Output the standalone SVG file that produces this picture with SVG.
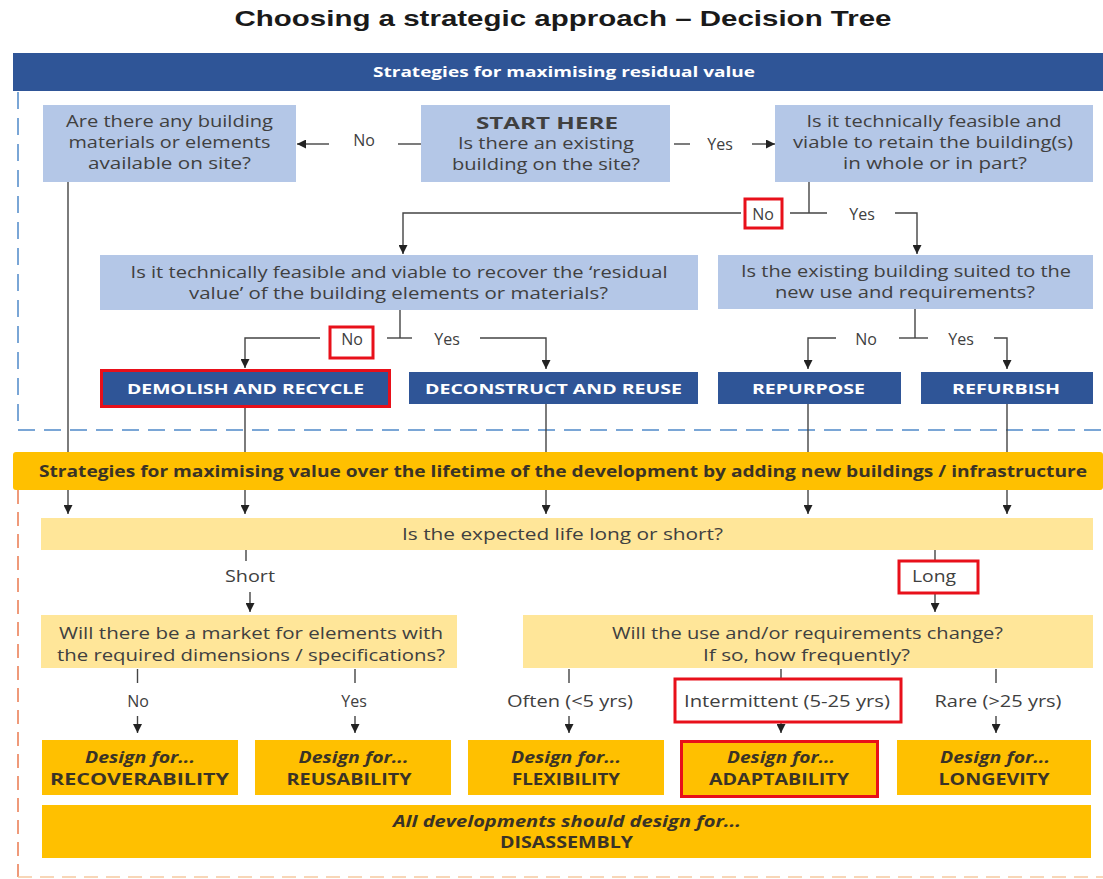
<svg xmlns="http://www.w3.org/2000/svg" width="1103" height="879" viewBox="0 0 1103 879">
<defs>
<marker id="ah" markerUnits="userSpaceOnUse" markerWidth="10" markerHeight="9" refX="9" refY="4.5" orient="auto">
<path d="M0,0 L9,4.5 L0,9 z" fill="#222"/>
</marker>
<style>
.q{fill:#b4c7e7}
.opt{fill:#2f5597}
.ly{fill:#ffe699}
.gy{fill:#ffc000}
.red{fill:none;stroke:#e8101a;stroke-width:3}
.t{font-family:"Open Sans","DejaVu Sans",sans-serif;font-size:16px;fill:#404040;text-anchor:middle}
.b{font-weight:bold}
.i{font-style:italic}
.w{fill:#ffffff;font-size:15px;font-weight:bold}
.d{fill:#3a3326;font-weight:bold}
.c{fill:none;stroke:#444;stroke-width:1.4}
.ca{fill:none;stroke:#444;stroke-width:1.4;marker-end:url(#ah)}
</style>
</defs>
<rect width="1103" height="879" fill="#ffffff"/>

<text x="563" y="26" font-family="Liberation Sans, Arial, sans-serif" font-size="22" font-weight="bold" fill="#1a1a1a" text-anchor="middle" textLength="657" lengthAdjust="spacingAndGlyphs">Choosing a strategic approach – Decision Tree</text>

<g id="section-residual">
<line x1="18" y1="92" x2="18" y2="430" stroke="#7aa6d6" stroke-width="2" stroke-dasharray="17 9"/>
<line x1="18" y1="430" x2="1103" y2="430" stroke="#7aa6d6" stroke-width="2" stroke-dasharray="17 9"/>
<rect x="13" y="53" width="1090" height="38" fill="#2f5597"/>
<text class="t w" x="564" y="77" textLength="382" lengthAdjust="spacingAndGlyphs">Strategies for maximising residual value</text>
</g>

<g id="section-lifetime">
<line x1="18" y1="490" x2="18" y2="877" stroke="#ef9a7a" stroke-width="2" stroke-dasharray="14 8"/>
<line x1="18" y1="877" x2="1103" y2="877" stroke="#f6c9a0" stroke-width="1.5" stroke-dasharray="14 8"/>
</g>

<g id="connectors">
<!-- start to left -->
<line class="c" x1="421" y1="144" x2="398" y2="144"/>
<line class="ca" x1="329" y1="144" x2="297" y2="144"/>
<!-- start to right -->
<line class="c" x1="674" y1="144" x2="690" y2="144"/>
<line class="ca" x1="752" y1="144" x2="775" y2="144"/>
<!-- box3 split -->
<line class="c" x1="809" y1="182" x2="809" y2="213"/>
<line class="c" x1="790" y1="213" x2="827" y2="213"/>
<polyline class="ca" points="895,213 917,213 917,254"/>
<polyline class="ca" points="741,213 403,213 403,254"/>
<!-- box4 split -->
<line class="c" x1="400" y1="310" x2="400" y2="338"/>
<line class="c" x1="387" y1="338" x2="412" y2="338"/>
<polyline class="ca" points="480,338 546,338 546,369"/>
<polyline class="ca" points="320,338 245,338 245,368"/>
<!-- box5 split -->
<line class="c" x1="915" y1="309" x2="915" y2="338"/>
<line class="c" x1="899" y1="338" x2="928" y2="338"/>
<polyline class="ca" points="994,338 1007,338 1007,369"/>
<polyline class="ca" points="836,338 808,338 808,369"/>
<!-- down through sections -->
<line class="c" x1="68" y1="182" x2="68" y2="452"/>
<line class="c" x1="245" y1="408" x2="245" y2="452"/>
<line class="c" x1="546" y1="404" x2="546" y2="452"/>
<line class="c" x1="808" y1="404" x2="808" y2="452"/>
<line class="c" x1="1007" y1="404" x2="1007" y2="452"/>
<line class="ca" x1="68" y1="490" x2="68" y2="514"/>
<line class="ca" x1="245" y1="490" x2="245" y2="514"/>
<line class="ca" x1="546" y1="490" x2="546" y2="514"/>
<line class="ca" x1="808" y1="490" x2="808" y2="514"/>
<line class="ca" x1="1007" y1="490" x2="1007" y2="514"/>
<!-- life -->
<line class="c" x1="246" y1="550" x2="246" y2="561"/>
<line class="ca" x1="250" y1="592" x2="250" y2="612"/>
<line class="c" x1="935" y1="550" x2="935" y2="560"/>
<line class="ca" x1="935" y1="594" x2="935" y2="612"/>
<!-- lower ticks -->
<line class="c" x1="137.5" y1="669" x2="137.5" y2="683"/>
<line class="c" x1="355" y1="669" x2="355" y2="683"/>
<line class="c" x1="569" y1="669" x2="569" y2="683"/>
<line class="c" x1="781" y1="669" x2="781" y2="678"/>
<line class="c" x1="996" y1="669" x2="996" y2="683"/>
<line class="ca" x1="137.5" y1="716" x2="137.5" y2="733"/>
<line class="ca" x1="355" y1="716" x2="355" y2="733"/>
<line class="ca" x1="569" y1="716" x2="569" y2="733"/>
<line class="ca" x1="781" y1="722" x2="781" y2="733"/>
<line class="ca" x1="996" y1="716" x2="996" y2="733"/>
</g>

<g id="labels">
<text class="t" x="364" y="146">No</text>
<text class="t" x="720" y="150">Yes</text>
<text class="t" x="763" y="220">No</text>
<rect class="red" x="745" y="199" width="37" height="29"/>
<text class="t" x="862" y="220">Yes</text>
<text class="t" x="352" y="345">No</text>
<rect class="red" x="330" y="327" width="43" height="31"/>
<text class="t" x="447" y="345">Yes</text>
<text class="t" x="866" y="345">No</text>
<text class="t" x="961" y="345">Yes</text>
<text class="t" x="250" y="582" textLength="50" lengthAdjust="spacingAndGlyphs">Short</text>
<text class="t" x="934" y="582" textLength="44" lengthAdjust="spacingAndGlyphs">Long</text>
<rect class="red" x="899" y="561" width="79" height="32"/>
<text class="t" x="138" y="707">No</text>
<text class="t" x="354" y="707">Yes</text>
<text class="t" x="570" y="707" textLength="126" lengthAdjust="spacingAndGlyphs">Often (&lt;5 yrs)</text>
<text class="t" x="787" y="707" textLength="206" lengthAdjust="spacingAndGlyphs">Intermittent (5-25 yrs)</text>
<rect class="red" x="675" y="679" width="226" height="43"/>
<text class="t" x="998" y="707" textLength="127" lengthAdjust="spacingAndGlyphs">Rare (&gt;25 yrs)</text>
</g>

<g id="q-materials">
<rect class="q" x="43" y="105" width="253" height="77"/>
<text class="t" x="169.5" y="127" textLength="207" lengthAdjust="spacingAndGlyphs">Are there any building</text>
<text class="t" x="169.5" y="148" textLength="202" lengthAdjust="spacingAndGlyphs">materials or elements</text>
<text class="t" x="169.5" y="169" textLength="163" lengthAdjust="spacingAndGlyphs">available on site?</text>
</g>

<g id="q-start">
<rect class="q" x="421" y="105" width="249" height="77"/>
<text class="t b" x="547" y="129" font-size="20" fill="#222" textLength="142" lengthAdjust="spacingAndGlyphs">START HERE</text>
<text class="t" x="546" y="149" textLength="176" lengthAdjust="spacingAndGlyphs">Is there an existing</text>
<text class="t" x="546" y="170" textLength="188" lengthAdjust="spacingAndGlyphs">building on the site?</text>
</g>

<g id="q-retain">
<rect class="q" x="775" y="105" width="318" height="77"/>
<text class="t" x="934" y="127" textLength="255" lengthAdjust="spacingAndGlyphs">Is it technically feasible and</text>
<text class="t" x="933" y="148" textLength="280" lengthAdjust="spacingAndGlyphs">viable to retain the building(s)</text>
<text class="t" x="935" y="169" textLength="184" lengthAdjust="spacingAndGlyphs">in whole or in part?</text>
</g>

<g id="q-recover">
<rect class="q" x="100" y="255" width="598" height="55"/>
<text class="t" x="399" y="278" textLength="537" lengthAdjust="spacingAndGlyphs">Is it technically feasible and viable to recover the ‘residual</text>
<text class="t" x="398.5" y="299" textLength="419" lengthAdjust="spacingAndGlyphs">value’ of the building elements or materials?</text>
</g>

<g id="q-suited">
<rect class="q" x="718" y="255" width="375" height="54"/>
<text class="t" x="906" y="277" textLength="330" lengthAdjust="spacingAndGlyphs">Is the existing building suited to the</text>
<text class="t" x="905" y="298" textLength="260" lengthAdjust="spacingAndGlyphs">new use and requirements?</text>
</g>

<g id="opt-demolish">
<rect class="opt" x="102" y="372" width="287" height="33"/>
<rect class="red" x="101.5" y="370.5" width="288" height="36"/>
<text class="t w" x="245.5" y="394" textLength="237" lengthAdjust="spacingAndGlyphs">DEMOLISH AND RECYCLE</text>
</g>
<g id="opt-deconstruct">
<rect class="opt" x="409" y="372" width="289" height="32"/>
<text class="t w" x="553.5" y="394" textLength="257" lengthAdjust="spacingAndGlyphs">DECONSTRUCT AND REUSE</text>
</g>
<g id="opt-repurpose">
<rect class="opt" x="718" y="372" width="183" height="32"/>
<text class="t w" x="808.5" y="394" textLength="113" lengthAdjust="spacingAndGlyphs">REPURPOSE</text>
</g>
<g id="opt-refurbish">
<rect class="opt" x="921" y="372" width="172" height="32"/>
<text class="t w" x="1006" y="394" textLength="108" lengthAdjust="spacingAndGlyphs">REFURBISH</text>
</g>

<g id="lifetime-header">
<rect class="gy" x="13" y="452" width="1090" height="38" rx="3"/>
<text class="t d" x="39" y="477" font-size="17" text-anchor="start" style="text-anchor:start" textLength="1048" lengthAdjust="spacingAndGlyphs">Strategies for maximising value over the lifetime of the development by adding new buildings / infrastructure</text>
</g>

<g id="q-life">
<rect class="ly" x="41" y="518" width="1052" height="32"/>
<text class="t" x="562.5" y="540" textLength="321" lengthAdjust="spacingAndGlyphs">Is the expected life long or short?</text>
</g>

<g id="q-market">
<rect class="ly" x="41" y="615" width="416" height="53"/>
<text class="t" x="251" y="639" textLength="384" lengthAdjust="spacingAndGlyphs">Will there be a market for elements with</text>
<text class="t" x="251" y="661" textLength="388" lengthAdjust="spacingAndGlyphs">the required dimensions / specifications?</text>
</g>

<g id="q-change">
<rect class="ly" x="523" y="615" width="570" height="53"/>
<text class="t" x="807.5" y="639" textLength="391" lengthAdjust="spacingAndGlyphs">Will the use and/or requirements change?</text>
<text class="t" x="806.5" y="661" textLength="207" lengthAdjust="spacingAndGlyphs">If so, how frequently?</text>
</g>

<g id="d-recoverability">
<rect class="gy" x="42" y="740" width="196" height="55"/>
<text class="t d i" x="140" y="763" textLength="110" lengthAdjust="spacingAndGlyphs">Design for...</text>
<text class="t d" x="139.5" y="785" textLength="179" lengthAdjust="spacingAndGlyphs">RECOVERABILITY</text>
</g>
<g id="d-reusability">
<rect class="gy" x="255" y="740" width="196" height="55"/>
<text class="t d i" x="353.5" y="763" textLength="110" lengthAdjust="spacingAndGlyphs">Design for...</text>
<text class="t d" x="349" y="785" textLength="125" lengthAdjust="spacingAndGlyphs">REUSABILITY</text>
</g>
<g id="d-flexibility">
<rect class="gy" x="468" y="740" width="196" height="55"/>
<text class="t d i" x="566" y="763" textLength="110" lengthAdjust="spacingAndGlyphs">Design for...</text>
<text class="t d" x="566" y="785" textLength="108" lengthAdjust="spacingAndGlyphs">FLEXIBILITY</text>
</g>
<g id="d-adaptability">
<rect class="gy" x="682" y="742" width="195" height="54"/>
<rect class="red" x="681.5" y="741.5" width="196" height="55"/>
<text class="t d i" x="781" y="763" textLength="108" lengthAdjust="spacingAndGlyphs">Design for...</text>
<text class="t d" x="779" y="785" textLength="140" lengthAdjust="spacingAndGlyphs">ADAPTABILITY</text>
</g>
<g id="d-longevity">
<rect class="gy" x="897" y="740" width="194" height="55"/>
<text class="t d i" x="995" y="763" textLength="110" lengthAdjust="spacingAndGlyphs">Design for...</text>
<text class="t d" x="994" y="785" textLength="111" lengthAdjust="spacingAndGlyphs">LONGEVITY</text>
</g>

<g id="d-disassembly">
<rect class="gy" x="42" y="805" width="1049" height="53"/>
<text class="t d i" x="567" y="827" textLength="348" lengthAdjust="spacingAndGlyphs">All developments should design for...</text>
<text class="t d" x="566.5" y="848" textLength="133" lengthAdjust="spacingAndGlyphs">DISASSEMBLY</text>
</g>
</svg>
